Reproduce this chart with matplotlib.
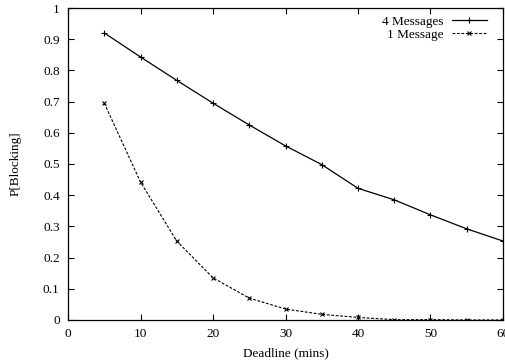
import matplotlib.pyplot as plt

deadline = [5, 10, 15, 20, 25, 30, 35, 40, 45, 50, 55, 60]
p_four = [0.920, 0.843, 0.768, 0.695, 0.625, 0.558, 0.498, 0.422, 0.385, 0.337, 0.292, 0.253]
p_one = [0.695, 0.442, 0.253, 0.135, 0.070, 0.035, 0.018, 0.008, 0.001, 0.001, 0.0, 0.0]

plt.rcParams['font.family'] = 'Liberation Serif'
plt.rcParams['font.size'] = 9.5

fig = plt.figure(figsize=(5.05, 3.64), dpi=100)
ax = fig.add_axes([0.1347, 0.121, 0.8613, 0.857])

ax.plot(deadline, p_four, color='black', lw=0.9, marker='+', ms=4, mew=0.8,
        label='4 Messages')
ax.plot(deadline, p_one, color='black', lw=0.8, ls=(0, (2.5, 1.5)), marker='x',
        ms=3.5, mew=0.8, label='1 Message')

ax.set_xlim(0, 60)
ax.set_ylim(0, 1)
ax.set_xticks(range(0, 61, 10))
ax.set_yticks([i / 10 for i in range(11)])
ax.set_yticklabels(['0', '0.1', '0.2', '0.3', '0.4', '0.5', '0.6', '0.7', '0.8', '0.9', '1'])
ax.tick_params(direction='in', top=True, right=True, length=4, width=0.8, pad=6)
for s in ax.spines.values():
    s.set_linewidth(0.9)

ax.set_xlabel('Deadline (mins)', labelpad=5)
ax.set_ylabel('P[Blocking]', labelpad=15)

ax.legend(loc='upper right', frameon=False, markerfirst=False, handlelength=2.7,
          handletextpad=0.6, labelspacing=0.1, borderaxespad=0.0, borderpad=0.2,
          bbox_to_anchor=(0.97, 0.985))

fig.savefig('out.png', dpi=100)
